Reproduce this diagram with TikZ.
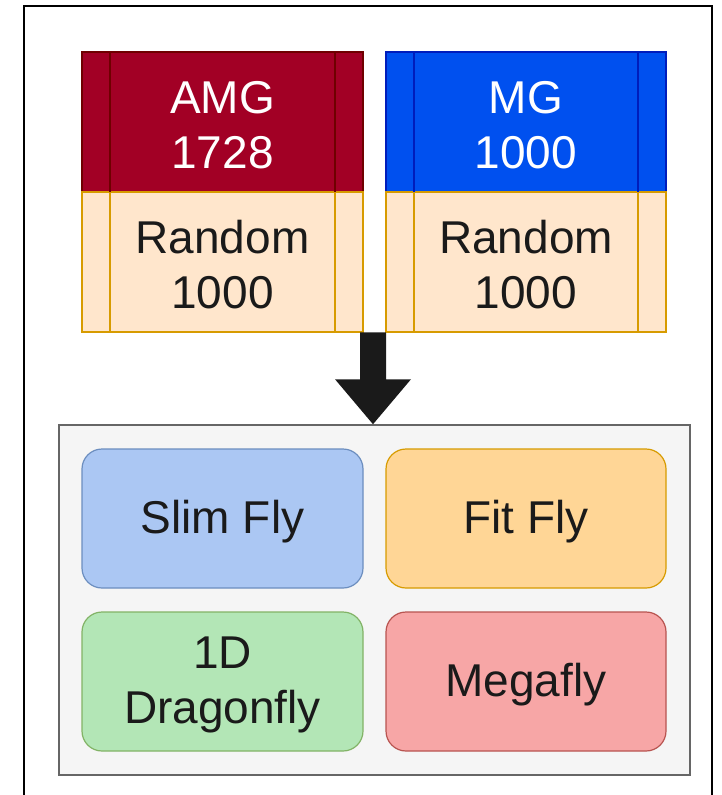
\documentclass[tikz,border=0pt]{standalone}
\usepackage{fontspec}
\setmainfont{Liberation Sans}
\definecolor{amgfill}{HTML}{A20025}
\definecolor{amgline}{HTML}{6F0000}
\definecolor{mgfill}{HTML}{0050EF}
\definecolor{mgline}{HTML}{001DBC}
\definecolor{rndfill}{HTML}{FFE6CC}
\definecolor{rndline}{HTML}{D79B00}
\definecolor{bluefill}{HTML}{ABC7F3}
\definecolor{blueline}{HTML}{6C8EBF}
\definecolor{orgfill}{HTML}{FFD696}
\definecolor{orgline}{HTML}{D79B00}
\definecolor{grnfill}{HTML}{B3E6B6}
\definecolor{grnline}{HTML}{82B366}
\definecolor{redfill}{HTML}{F7A6A6}
\definecolor{redline}{HTML}{B85450}
\definecolor{panelfill}{HTML}{F5F5F5}
\definecolor{panelline}{HTML}{666666}
\definecolor{ink}{HTML}{1A1A1A}
\tikzset{
  txt/.style={font=\fontsize{46}{55}\selectfont, align=center, text=ink},
  oneline/.style={text height=39pt},
  twoline/.style={text height=94pt},
  procbox/.style={txt, twoline, draw, line width=1.5pt, inner sep=0pt, outer sep=0pt,
    minimum width=281pt, minimum height=140pt},
  topbox/.style={procbox, text=white},
  flybox/.style={txt, draw, line width=1.2pt, rounded corners=20pt, inner sep=0pt,
    minimum width=281pt, minimum height=139pt},
}
% vertical bars of a process box, 28px in from each side
\newcommand{\procbars}[2]{%
  \draw[#2, line width=1.5pt] ([xshift=28pt]#1.north west) -- ([xshift=28pt]#1.south west);
  \draw[#2, line width=1.5pt] ([xshift=-28pt]#1.north east) -- ([xshift=-28pt]#1.south east);
}
\begin{document}
\begin{tikzpicture}[x=1pt, y=-1pt]
\useasboundingbox (0,0) rectangle (722,795);
% outer frame, open at the bottom
\draw[line width=2pt, black] (24,800) -- (24,6) -- (712,6) -- (712,800);

% input sets
\node[topbox, fill=amgfill, draw=amgline] (amg) at (222.5,122) {AMG\\1728};
\node[procbox, fill=rndfill, draw=rndline] (rndA) at (222.5,262) {Random\\1000};
\node[topbox, fill=mgfill, draw=mgline, minimum width=280pt] (mg) at (526,122) {MG\\1000};
\node[procbox, fill=rndfill, draw=rndline, minimum width=280pt] (rndB) at (526,262) {Random\\1000};
\procbars{rndA}{rndline}
\procbars{rndB}{rndline}
\procbars{amg}{amgline}
\procbars{mg}{mgline}

% topologies panel
\node[draw=panelline, fill=panelfill, line width=1.5pt, minimum width=631pt,
  minimum height=350pt, inner sep=0pt] (panel) at (374.5,600) {};
\node[flybox, oneline, fill=bluefill, draw=blueline] (slim) at (222.5,518.5) {Slim Fly};
\node[flybox, oneline, fill=orgfill, draw=orgline, minimum width=280pt] (fit) at (526,518.5) {Fit Fly};
\node[flybox, twoline, fill=grnfill, draw=grnline] (dfly) at (222.5,681.5) {1D\\Dragonfly};
\node[flybox, oneline, fill=redfill, draw=redline, minimum width=280pt] (mega) at (526,681.5) {Megafly};

% block arrow from the sets down to the panel
\coordinate (tip) at ([xshift=-1.5pt]panel.north);
\fill[ink] (tip) -- ++(-38,-45) -- ++(25,0) -- ++(0,-47) -- ++(26,0)
  -- ++(0,47) -- ++(25,0) -- cycle;
\end{tikzpicture}
\end{document}
